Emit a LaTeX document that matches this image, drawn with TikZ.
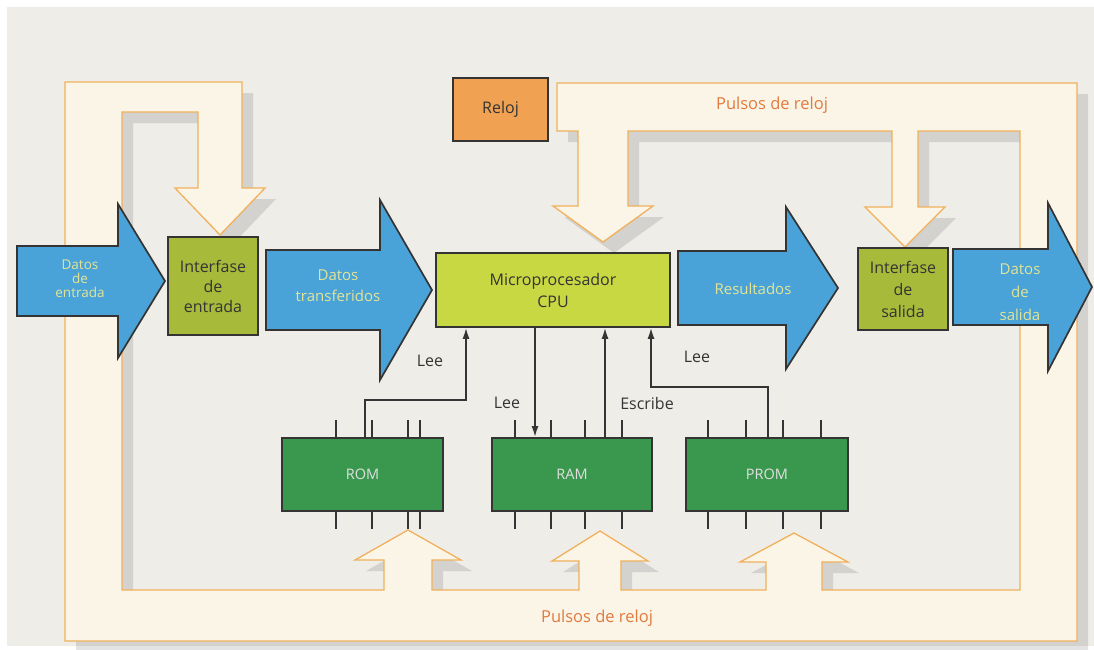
\documentclass[tikz,border=0pt]{standalone}
\usepackage{fontspec}
\setmainfont{Open Sans}
\usetikzlibrary{arrows.meta,shadows}
\definecolor{paper}{RGB}{239,237,232}
\definecolor{pulsefill}{RGB}{251,245,231}
\definecolor{pulseline}{RGB}{240,176,92}
\definecolor{pulsetext}{RGB}{226,122,62}
\definecolor{datablue}{RGB}{74,163,216}
\definecolor{datatext}{RGB}{226,228,150}
\definecolor{ifacegreen}{RGB}{168,186,58}
\definecolor{cpugreen}{RGB}{200,216,66}
\definecolor{chipgreen}{RGB}{58,152,78}
\definecolor{clockorange}{RGB}{240,162,82}
\definecolor{ink}{RGB}{52,52,52}

%% big data arrow: body x0..x1, head to tip x2, centre y, half body, half head
\newcommand{\bigarrow}[6]{%
  \filldraw[dataarrow] (#1,#4-#5) -- (#2,#4-#5) -- (#2,#4-#6) -- (#3,#4)
    -- (#2,#4+#6) -- (#2,#4+#5) -- (#1,#4+#5) -- cycle;}

\begin{document}
\begin{tikzpicture}[x=1pt, y=-1pt,
  dataarrow/.style={draw=ink, line width=1.7pt, fill=datablue, line join=miter},
  datalabel/.style={text=datatext, align=center, font=\fontsize{15}{21}\selectfont},
  pulseband/.style={draw=pulseline, line width=1.3pt, fill=pulsefill,
    drop shadow={shadow xshift=11pt, shadow yshift=-11pt, fill=black, opacity=0.11}},
  pulselabel/.style={text=pulsetext, font=\fontsize{16.5}{18}\selectfont},
  iface/.style={draw=ink, line width=1.7pt, fill=ifacegreen, align=center,
    text=ink, font=\fontsize{16}{20}\selectfont, inner sep=0pt},
  chip/.style={draw=ink, line width=2pt, fill=chipgreen, text=black!12,
    font=\fontsize{14.5}{16}\selectfont, inner sep=0pt},
  pin/.style={draw=ink, line width=1.7pt},
  bus/.style={draw=ink, line width=1.6pt, -{Latex[length=11pt,width=7pt]}},
  buslabel/.style={text=ink, font=\fontsize{16}{18}\selectfont}]
  \useasboundingbox (0,0) rectangle (1094,649);

  %% Paper
  \fill[white] (0,0) rectangle (1094,649);
  \fill[paper] (7,7) rectangle (1094,646);

  %% Clock pulse band
  \filldraw[pulseband]
    (65,82) -- (242,82) -- (242,188) -- (265,188) -- (220,235) -- (175,188) -- (198,188)
    -- (198,112) -- (122,112) -- (122,590)
    -- (384,590) -- (384,560) -- (355,560) -- (408,530) -- (461,560) -- (432,560) -- (432,590)
    -- (579,590) -- (579,561) -- (552,561) -- (600,531) -- (648,561) -- (621,561) -- (621,590)
    -- (766,590) -- (766,562) -- (740,562) -- (794,533) -- (848,562) -- (822,562) -- (822,590)
    -- (1020,590) -- (1020,131) -- (918,131) -- (918,207) -- (945,207) -- (905,247)
    -- (865,207) -- (892,207) -- (892,131)
    -- (628,131) -- (628,206) -- (653,206) -- (603,242) -- (553,206) -- (578,206) -- (578,131)
    -- (557,131) -- (557,83) -- (1077,83) -- (1077,641) -- (65,641) -- cycle;
  \node[pulselabel] (pulsetop) at (772,105) {Pulsos de reloj};
  \node[pulselabel] (pulsebot) at (597,618) {Pulsos de reloj};

  %% Clock
  \node[iface, fill=clockorange, minimum width=95, minimum height=63] (reloj) at (500.5,109.5) {Reloj};

  %% Data arrows
  \bigarrow{17}{118}{165}{281}{35}{77}
  \bigarrow{266}{380}{432}{290}{40}{90}
  \bigarrow{678}{786}{838}{288}{37}{81}
  \bigarrow{953}{1048}{1092}{287}{38}{84}
  \node[datalabel, font=\fontsize{13.5}{14}\selectfont] (datin) at (80,279) {Datos\\de\\entrada};
  \node[datalabel] (dattr) at (338,286) {Datos\\transferidos};
  \node[datalabel] (result) at (753,289) {Resultados};
  \node[datalabel, font=\fontsize{15}{23}\selectfont] (datout) at (1020,292) {Datos\\de\\salida};

  %% Interfaces and CPU
  \node[iface, minimum width=90, minimum height=98] (ifin) at (213,286) {Interfase\\de\\entrada};
  \node[iface, minimum width=90, minimum height=82, font=\fontsize{16}{22}\selectfont] (ifout) at (903,289) {Interfase\\de\\salida};
  \node[iface, fill=cpugreen, minimum width=234, minimum height=74, font=\fontsize{16}{22}\selectfont] (cpu) at (553,290) {Microprocesador\\CPU};

  %% Memory chips
  \node[chip, minimum width=161, minimum height=73] (rom) at (362.5,474.5) {ROM};
  \node[chip, minimum width=160, minimum height=73] (ram) at (572,474.5) {RAM};
  \node[chip, minimum width=162, minimum height=73] (prom) at (767,474.5) {PROM};

  %% Pins
  \foreach \dx in {55,91,127,139} {
    \draw[pin] ([xshift=\dx]rom.north west) -- ++(0,-17);
    \draw[pin] ([xshift=\dx]rom.south west) -- ++(0,17);
  }
  \foreach \dx in {24,60,94,131} {
    \draw[pin] ([xshift=\dx]ram.north west) -- ++(0,-17);
    \draw[pin] ([xshift=\dx]ram.south west) -- ++(0,17);
  }
  \foreach \dx in {23,61,98,136} {
    \draw[pin] ([xshift=\dx]prom.north west) -- ++(0,-17);
    \draw[pin] ([xshift=\dx]prom.south west) -- ++(0,17);
  }

  %% Buses
  \coordinate (romlee) at (466,400);
  \coordinate (promlee) at (651,387);
  \draw[bus] ([xshift=2.5]rom.north) |- (romlee) -- (romlee |- cpu.south);
  \draw[bus] ([xshift=-18]cpu.south) -- ([xshift=-37]ram.north);
  \draw[bus] ([xshift=33]ram.north) -- ([xshift=52]cpu.south);
  \draw[bus] ([xshift=1]prom.north) |- (promlee) -- (promlee |- cpu.south);
  \node[buslabel] (lee1) at (430,361) {Lee};
  \node[buslabel] (lee2) at (507,403) {Lee};
  \node[buslabel] (escribe) at (647,403) {Escribe};
  \node[buslabel] (lee3) at (697,357) {Lee};
\end{tikzpicture}
\end{document}
